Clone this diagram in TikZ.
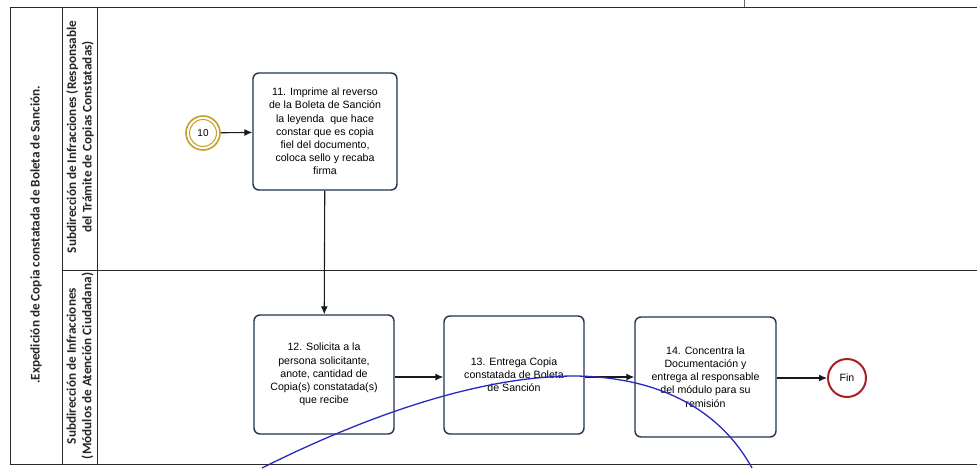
\documentclass[tikz,border=0pt]{standalone}
\usepackage{fontspec}
\setmainfont{Liberation Sans}
\newfontfamily\lanefont{Carlito}
\usetikzlibrary{arrows.meta}
\definecolor{taskedge}{RGB}{32,52,78}
\definecolor{taskglow}{RGB}{150,215,235}
\definecolor{linkevent}{RGB}{196,160,40}
\definecolor{endevent}{RGB}{170,30,40}
\definecolor{penblue}{RGB}{40,40,190}
\definecolor{frame}{RGB}{40,40,40}
\tikzset{
  task/.style={draw=taskedge, line width=1.4pt, rounded corners=6pt, fill=white,
    minimum width=#1, align=center, inner sep=2pt,
    font=\fontsize{10.6}{13.2}\selectfont},
  flow/.style={draw=black!90, line width=1.1pt, -{Latex[length=8pt,width=7pt]}},
  lane/.style={line width=1pt, draw=frame},
  lanelabel/.style={rotate=90, align=center, font=\lanefont\bfseries\fontsize{13.2}{15.5}\selectfont, text=black!85},
}
\begin{document}
\begin{tikzpicture}[x=1pt,y=-1pt]
  \useasboundingbox (0,0) rectangle (977,471);
  % pool frame and lanes
  \draw[lane] (977,7) -- (10,7) -- (10,464) -- (977,464);
  \draw[lane] (62,7) -- (62,464);
  \draw[lane] (97,7) -- (97,464);
  \draw[lane] (62,270) -- (977,270);
  \draw[line width=0.8pt, draw=black!60] (744,0) -- (744,7);
  % pool and lane titles
  \node[lanelabel] (pool) at (36,235) {.Expedición de Copia constatada de Boleta de Sanción.};
  \node[lanelabel] (laneA) at (80,137) {Subdirección de Infracciones (Responsable\\del Trámite de Copias Constatadas)};
  \node[lanelabel] (laneB) at (80,366) {Subdirección de Infracciones\\(Módulos de Atención Ciudadana)};
  % events
  \node[circle, draw=linkevent, line width=1.6pt, minimum size=34pt, inner sep=0pt] (ev10) at (203,133) {};
  \node[circle, draw=linkevent, line width=1.0pt, minimum size=27pt, inner sep=0pt,
        font=\fontsize{10}{11}\selectfont] (ev10in) at (203,133) {10};
  \node[circle, draw=endevent, line width=2pt, minimum size=38pt, inner sep=0pt,
        font=\fontsize{10.6}{12}\selectfont] (fin) at (847,378) {Fin};
  % tasks
  \node[task=144pt, minimum height=117pt] (t11) at (325,131.5)
    {11. Imprime al reverso\\de la Boleta de Sanción\\la leyenda\ \ que hace\\constar que es copia\\fiel del documento,\\coloca sello y recaba\\firma};
  \node[task=140pt, minimum height=119pt] (t12) at (324,374.5)
    {12. Solicita a la\\persona solicitante,\\anote, cantidad de\\Copia(s) constatada(s)\\que recibe};
  \node[task=140pt, minimum height=118pt] (t13) at (514,375)
    {13. Entrega Copia\\constatada de Boleta\\de Sanción};
  \node[task=141pt, minimum height=120pt] (t14) at (705.5,377)
    {14. Concentra la\\Documentación y\\entrega al responsable\\del módulo para su\\remisión};
  % sequence flows
  \draw[flow] (ev10) -- (t11);
  \draw[flow] (t11) -- (t12);
  \draw[flow] (t12.east |- 0,377) -- (t13.west |- 0,377);
  \draw[flow] (t13.east |- 0,377) -- (t14.west |- 0,377);
  \draw[flow] (t14.east |- 0,378) -- (fin);
  % pen stroke across the lower lane
  \draw[penblue, line width=1.3pt]
    (262,468) .. controls (350,424) and (470,376) .. (575,376)
              .. controls (660,377) and (720,410) .. (752,468);
\end{tikzpicture}
\end{document}
